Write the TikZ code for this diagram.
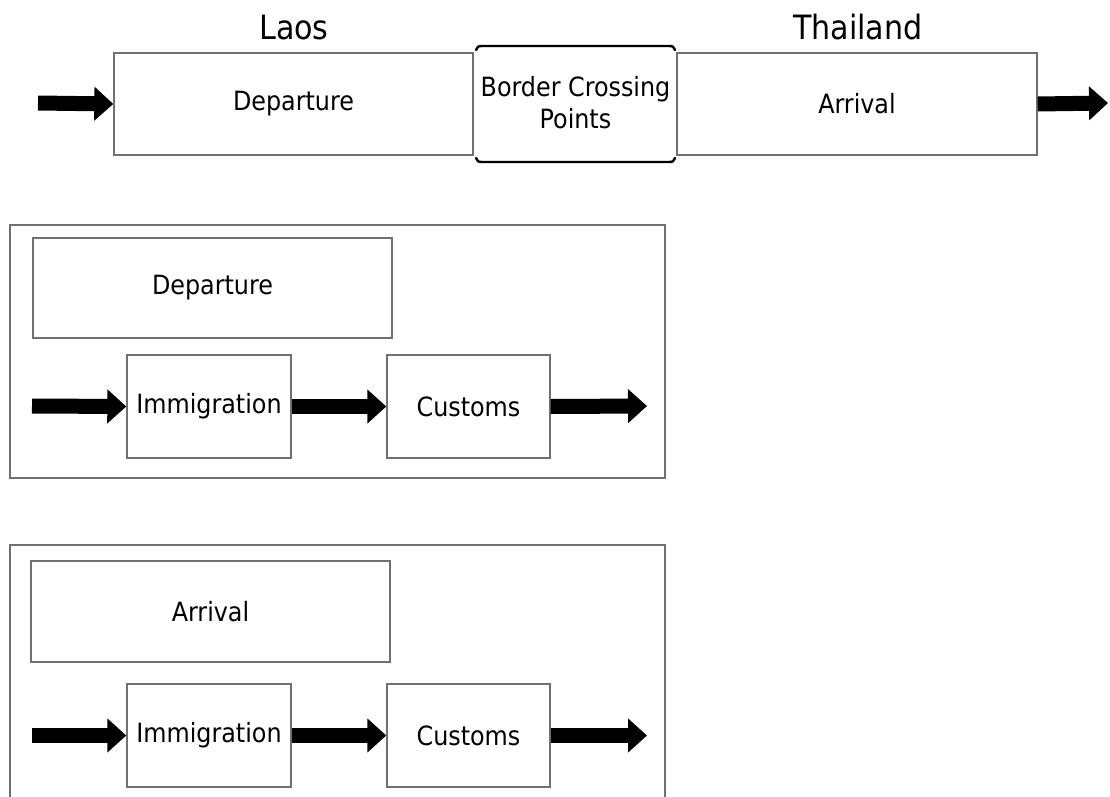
\documentclass[tikz,border=0pt]{standalone}
\usepackage{fontspec}
\setmainfont{DejaVu Sans Condensed}
\usetikzlibrary{arrows.meta}
\definecolor{boxgray}{RGB}{112,112,112}
\begin{document}
\begin{tikzpicture}[x=1pt,y=-1pt,
  box/.style n args={2}{draw=boxgray,line width=1.4pt,fill=white,minimum width=#1,minimum height=#2,inner sep=0pt,font=\fontsize{26.5}{30}\selectfont},
  frame/.style n args={2}{draw=boxgray,line width=1.4pt,minimum width=#1,minimum height=#2,inner sep=0pt},
  title/.style={font=\fontsize{33.5}{36}\selectfont,anchor=base,inner sep=0pt},
  flow/.style={line width=15pt,-{Triangle[length=19pt,width=33pt]}},
  bracket/.style={line width=2.4pt,black,line cap=round}]
\path[use as bounding box] (0,0) rectangle (1110,797);

% top row
\node[title] (laos) at (294,40) {Laos};
\node[title] (thai) at (858,40) {Thailand};
\node[box={359pt}{102pt}] (dep) at (293.5,104) {Departure};
\node[box={360pt}{102pt}] (arr) at (857,104) {Arrival};
\node[align=center,font=\fontsize{26.5}{32}\selectfont,inner sep=0pt] (bcp) at (575.5,103) {Border Crossing\\Points};
\draw[bracket] (476,50) .. controls (477,47) and (478,46) .. (482,46) -- (669,46) .. controls (673,46) and (674,47) .. (675,50);
\draw[bracket] (476,158) .. controls (477,161) and (478,162) .. (482,162) -- (669,162) .. controls (673,162) and (674,161) .. (675,158);
\coordinate (in0) at (38,103);
\coordinate (out0) at (1108,103);
\draw[flow] (in0) -- (dep.west);
\draw[flow] (arr.east) -- (out0);

% departure frame
\node[frame={655pt}{253pt}] (f1) at (337.5,351.5) {};
\node[box={359pt}{100pt}] (dep2) at (212.5,288) {Departure};
\node[box={164pt}{103pt}] (imm1) at (209,406.5) {Immigration};
\node[box={163pt}{103pt}] (cus1) at (468.5,406.5) {Customs};
\coordinate (in1) at (32,406);
\coordinate (out1) at (647,406);
\draw[flow] (in1) -- (imm1.west);
\draw[flow] (imm1.east) -- (cus1.west);
\draw[flow] (cus1.east) -- (out1);

% arrival frame
\node[frame={655pt}{270pt}] (f2) at (337.5,680) {};
\node[box={359pt}{101pt}] (arr2) at (210.5,611.5) {Arrival};
\node[box={164pt}{103pt}] (imm2) at (209,735.5) {Immigration};
\node[box={163pt}{103pt}] (cus2) at (468.5,735.5) {Customs};
\coordinate (in2) at (32,735.5);
\coordinate (out2) at (647,735.5);
\draw[flow] (in2) -- (imm2.west);
\draw[flow] (imm2.east) -- (cus2.west);
\draw[flow] (cus2.east) -- (out2);
\end{tikzpicture}
\end{document}
